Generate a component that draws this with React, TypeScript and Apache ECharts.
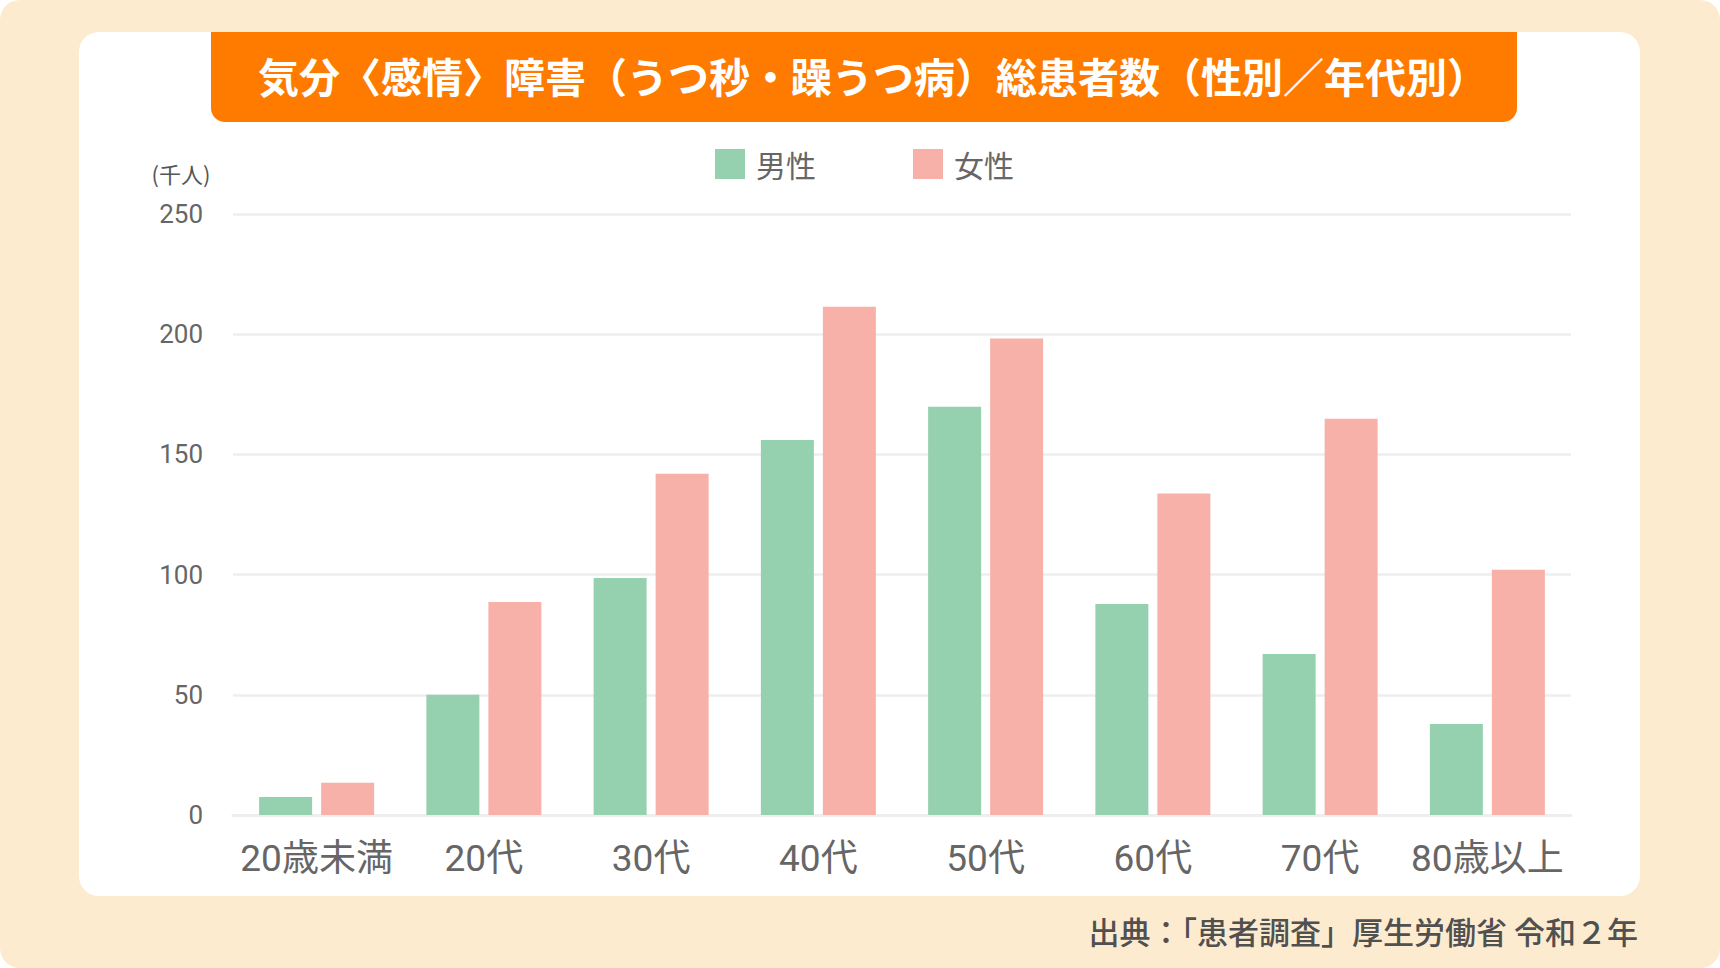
import React, { useEffect, useRef } from "react";
import * as echarts from "echarts";

const categories = ["20歳未満", "20代", "30代", "40代", "50代", "60代", "70代", "80歳以上"];
const maleValues = [7.5, 50, 98.6, 156, 169.8, 87.8, 67, 37.9];
const femaleValues = [13.4, 88.6, 141.9, 211.4, 198.2, 133.7, 164.8, 102];
const seriesNames = ["男性", "女性"];
const yMin = 0;
const yMax = 250;
const yInterval = 50;
const titleText = "気分〈感情〉障害（うつ秒・躁うつ病）総患者数（性別／年代別）";
const unitText = "(千人)";
const sourceText = "出典：「患者調査」厚生労働省 令和２年";

const FONT = "Roboto, 'Noto Sans CJK JP', sans-serif";
const CJK = "'Noto Sans CJK JP', sans-serif";

export default function App() {
  const ref = useRef<HTMLDivElement>(null);

  useEffect(() => {
    if (!ref.current) return;
    const chart = echarts.init(ref.current, undefined, { renderer: "svg" });
    chart.setOption({
      animation: false,
      backgroundColor: "transparent",
      graphic: [
        {
          type: "rect",
          z: -10,
          shape: { x: 79, y: 32, width: 1561, height: 864, r: 20 },
          style: { fill: "#FFFFFF" },
        },
        {
          type: "rect",
          z: -5,
          shape: { x: 211, y: 32, width: 1306, height: 90, r: [0, 0, 14, 14] },
          style: { fill: "#FF7B00" },
        },
        {
          type: "text",
          x: 873,
          y: 75,
          style: {
            text: titleText,
            fill: "#FFFFFF",
            font: `bold 41px ${CJK}`,
            textAlign: "center",
            textVerticalAlign: "middle",
          },
        },
        {
          type: "text",
          x: 181,
          y: 173,
          style: {
            text: unitText,
            fill: "#555555",
            font: `22px ${CJK}`,
            textAlign: "center",
            textVerticalAlign: "middle",
          },
        },
        {
          type: "text",
          x: 1638,
          y: 930,
          style: {
            text: sourceText,
            fill: "#505050",
            font: `500 31px ${CJK}`,
            textAlign: "right",
            textVerticalAlign: "middle",
          },
        },
      ],
      legend: {
        left: 710,
        top: 144,
        itemWidth: 30,
        itemHeight: 30,
        itemGap: 97,
        icon: "rect",
        data: seriesNames,
        textStyle: {
          fontSize: 30,
          color: "#666666",
          fontFamily: CJK,
          padding: [0, 0, 0, 6],
        },
      },
      grid: { left: 233, right: 149, top: 214, bottom: 153 },
      xAxis: {
        type: "category",
        data: categories,
        axisLine: { show: true, lineStyle: { color: "#EEEEEE", width: 3 } },
        axisTick: { show: false },
        axisLabel: { interval: 0, fontSize: 37, color: "#666666", margin: 25, fontFamily: FONT },
      },
      yAxis: {
        type: "value",
        min: yMin,
        max: yMax,
        interval: yInterval,
        axisLine: { show: false },
        axisTick: { show: false },
        axisLabel: { fontSize: 26, color: "#666666", margin: 30, fontFamily: FONT },
        splitLine: { show: true, lineStyle: { color: "#EEEEEE", width: 2.5 } },
      },
      series: [
        {
          name: seriesNames[0],
          type: "bar",
          data: maleValues,
          barWidth: 53,
          barGap: "17%",
          itemStyle: { color: "#96D1AF" },
        },
        {
          name: seriesNames[1],
          type: "bar",
          data: femaleValues,
          barWidth: 53,
          barGap: "17%",
          itemStyle: { color: "#F7B1A8" },
        },
      ],
    });
    return () => chart.dispose();
  }, []);

  return (
    <div
      style={{
        position: "fixed",
        left: 0,
        top: 0,
        width: 1720,
        height: 968,
        background: "#FDEBD0",
        borderRadius: 20,
        overflow: "hidden",
      }}
    >
      <div ref={ref} style={{ width: 1720, height: 968 }} />
    </div>
  );
}
